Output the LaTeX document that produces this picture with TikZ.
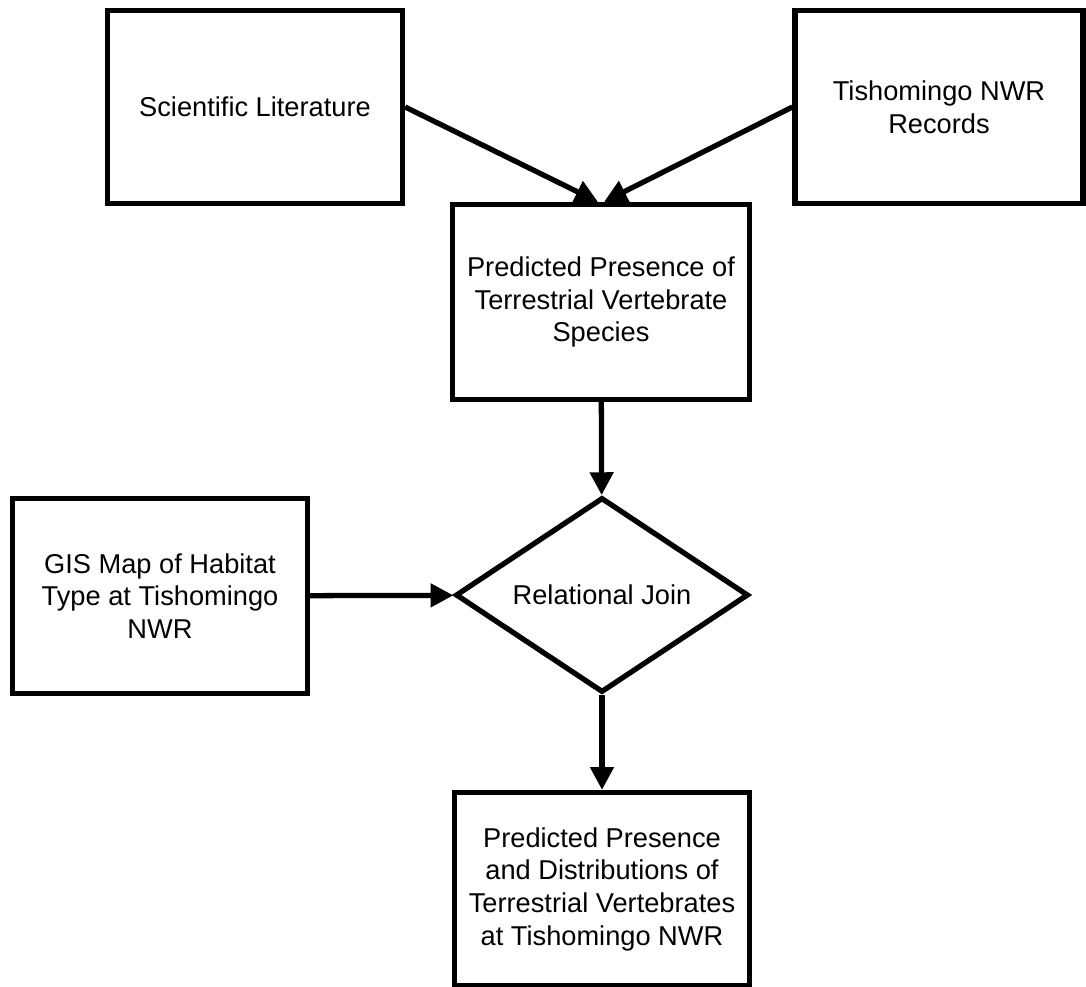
\documentclass[tikz,border=0pt]{standalone}
\usepackage{fontspec}
\setmainfont{Liberation Sans}
\usepackage{tikz}
\usetikzlibrary{shapes.geometric,arrows.meta}

\begin{document}
\begin{tikzpicture}[x=0.02cm, y=-0.02cm, every text node part/.style={align=center}]
			\tikzstyle{txt} = [font = \fontsize{15.5}{18.6}\selectfont]
			\tikzstyle{box} = [txt, draw, rectangle, line width = 3pt, minimum width = 5.9cm, minimum height = 3.86cm]
			\tikzstyle{relbox} = [txt, draw, diamond, aspect = 1.5, inner sep = 0pt, line width = 3pt, minimum width = 5.86cm, minimum height = 3.9cm]
			\tikzstyle{flow} = [line width = 3pt, -{Triangle[length=13pt, width=13pt]}]
			\useasboundingbox (0, 0) rectangle (1086, 987);

			\path (255, 107) node[box] (lit) {Scientific Literature};
			\path (939, 107) node[box, minimum width = 5.76cm] (rec) {Tishomingo NWR\\Records};
			\path (601, 302) node[box, minimum width = 5.94cm, minimum height = 3.9cm] (pres) {Predicted Presence of\\Terrestrial Vertebrate\\Species};
			\path (160, 596) node[box, minimum height = 3.9cm] (gis) {GIS Map of Habitat\\Type at Tishomingo\\NWR};
			\path (602, 595) node[relbox] (rj) {Relational Join};
			\path (602, 889) node[box] (dist) {Predicted Presence\\and Distributions of\\Terrestrial Vertebrates\\at Tishomingo NWR};

			\path[draw, flow] (lit.east) -- ([xshift = -0.06cm]pres.north);
			\path[draw, flow] (rec.west) -- ([xshift = 0.06cm]pres.north);

			\path[draw, flow] (pres) -- (rj);
			\path[draw, flow] (gis) -- (rj);
			\path[draw, flow] (rj) -- (dist);
		\end{tikzpicture}
\end{document}
